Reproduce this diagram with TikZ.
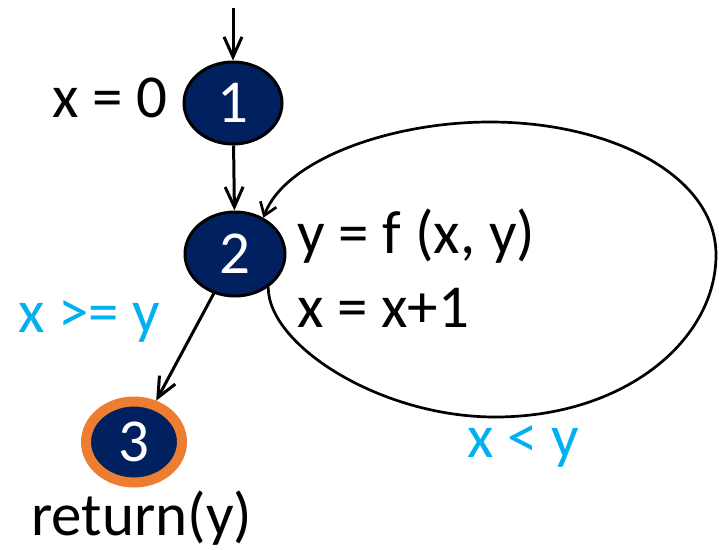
\documentclass[tikz,border=0pt]{standalone}
\usepackage{fontspec}
\setmainfont{Carlito}
\usepackage{tikz}
\usetikzlibrary{shapes.geometric,arrows.meta}
\definecolor{navy}{HTML}{002060}
\definecolor{rimorange}{HTML}{ED7D31}
\definecolor{condcyan}{HTML}{00B0F0}

\begin{document}
\begin{tikzpicture}[x=1pt,y=-1pt,
  bignum/.style={font=\fontsize{61}{72}\selectfont},
  state/.style={ellipse,draw=black,line width=3pt,fill=navy,text=white,inner sep=0pt,bignum},
  lbl/.style={inner sep=0pt,bignum},
  cond/.style={inner sep=0pt,bignum,text=condcyan},
  flow/.style={line width=3pt,-{Straight Barb[length=20pt,width=18pt]}},
  back/.style={line width=2.7pt,-{Straight Barb[length=12pt,width=17pt]}}]
\useasboundingbox (0,0) rectangle (719,549);

\node[state,minimum width=98pt,minimum height=82pt] (n1) at (233,103) {1};
\node[state,minimum width=100pt,minimum height=84pt] (n2) at (235,254) {2};
\node[state,draw=rimorange,line width=10pt,minimum width=96pt,minimum height=81pt] (n3) at (134,442) {3};
\coordinate (entry) at (233,8);

\draw[flow] (entry) -- (n1);
\draw[flow] (n1) -- (n2);
\draw[flow] (n2) -- (n3);
\draw[back] (n2.-45) .. controls (268,345) and (380,417) .. (495,417)
  .. controls (625,417) and (716,340) .. (716,255)
  .. controls (716,175) and (610,122) .. (490,122)
  .. controls (390,122) and (285,160) .. (n2.52);

\node[lbl,anchor=base east] (init) at (168,117) {x = 0};
\node[lbl,anchor=base west] (body1) at (297,253) {y = f (x, y)};
\node[lbl,anchor=base west] (body2) at (297,327) {x = x+1};
\node[cond,anchor=base west] (exitc) at (18,332) {x >= y};
\node[cond,anchor=base west] (loopc) at (467,457) {x < y};
\node[lbl,anchor=base west] (ret) at (31,535) {return(y)};
\end{tikzpicture}
\end{document}
